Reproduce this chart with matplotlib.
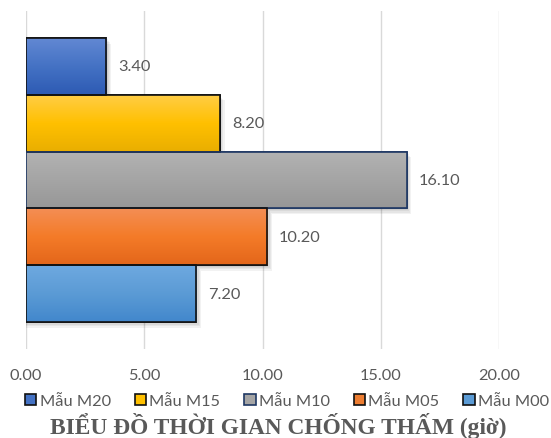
import numpy as np
import matplotlib
matplotlib.use("Agg")
import matplotlib.pyplot as plt
from matplotlib.colors import LinearSegmentedColormap
from matplotlib.patches import Rectangle

# Data
series = ["Mẫu M20", "Mẫu M15", "Mẫu M10", "Mẫu M05", "Mẫu M00"]
values = [3.40, 8.20, 16.10, 10.20, 7.20]
xticks = [0, 5, 10, 15, 20]
title = "BIỂU ĐỒ THỜI GIAN CHỐNG THẤM (giờ)"

# Styling: base colour, gradient (top, middle, bottom), edge colour
base_colors = ["#4472C4", "#FFC000", "#A5A5A5", "#ED7D31", "#5B9BD5"]
gradients = [
    ["#6288D3", "#4472C4", "#2D5AB3"],
    ["#FFCD45", "#FFC000", "#E9AE00"],
    ["#B3B3B3", "#A5A5A5", "#979797"],
    ["#F38E55", "#F47B28", "#E3661A"],
    ["#6EA9E0", "#5B9BD5", "#4287CC"],
]
edge_colors = ["#111111", "#111111", "#1F3864", "#111111", "#111111"]

text_gray = "#595959"
plt.rcParams["font.family"] = ["Lato", "DejaVu Sans"]

fig = plt.figure(figsize=(5.51, 4.39), dpi=100)
ax = fig.add_axes([26 / 551, 1 - 350 / 439, (499 - 26) / 551, 338 / 439])

n = len(values)
bar_h = 0.8 / n
# first series on top
ypos = [0.4 - bar_h * (i + 0.5) for i in range(n)]

ax.set_xlim(0, 20)
ax.set_ylim(-0.476, 0.476)

# soft drop shadows
for v, y in zip(values, ypos):
    for k in range(4):
        d = 0.004 * (k + 1)
        ax.add_patch(Rectangle((0.0, y - bar_h / 2 - d), v + 0.05 * (k + 1), bar_h,
                               facecolor="black", edgecolor="none", alpha=0.05, zorder=1))

bars = ax.barh(ypos, values, height=bar_h, color=base_colors,
               edgecolor=edge_colors, linewidth=1.2, zorder=3)

# vertical gradient fill inside each bar
grad = np.linspace(0, 1, 256).reshape(-1, 1)
for bar, g, v, y in zip(bars, gradients, values, ypos):
    cmap = LinearSegmentedColormap.from_list("g", g[::-1])
    im = ax.imshow(grad, cmap=cmap, aspect="auto", origin="lower",
                   extent=[0, v, y - bar_h / 2, y + bar_h / 2], zorder=3.5,
                   interpolation="bilinear")
    im.set_clip_path(bar)
    ax.add_patch(Rectangle((0, y - bar_h / 2), v, bar_h, facecolor="none",
                           edgecolor=bar.get_edgecolor(), linewidth=1.2, zorder=4))
    ax.text(v + 0.5, y, f"{v:.2f}", va="center", ha="left", fontsize=11.8,
            color=text_gray, zorder=5)

ax.set_xticks(xticks)
ax.set_xticklabels([f"{t:.2f}" for t in xticks], fontsize=11.8, color=text_gray)
ax.tick_params(axis="x", length=0, pad=14)
ax.set_yticks([])
ax.grid(axis="x", color="#D9D9D9", linewidth=1, zorder=0)
ax.set_axisbelow(True)
for s in ax.spines.values():
    s.set_visible(False)

handles = [Rectangle((0, 0), 1, 1, facecolor=c, edgecolor=e, linewidth=1.2)
           for c, e in zip(base_colors, edge_colors)]
fig.legend(handles, series, loc="center", bbox_to_anchor=(0.521, 1 - 402 / 439),
           ncol=5, frameon=False, fontsize=11.8, handlelength=0.7,
           handleheight=0.7, handletextpad=0.2, columnspacing=1.45,
           labelcolor=text_gray, borderpad=0, borderaxespad=0)

fig.text(0.505, 1 - 434 / 439, title, ha="center", va="baseline",
         fontsize=16.8, fontweight="bold", color=text_gray,
         family=["Liberation Serif", "DejaVu Serif"])

fig.savefig("out.png", dpi=100)
